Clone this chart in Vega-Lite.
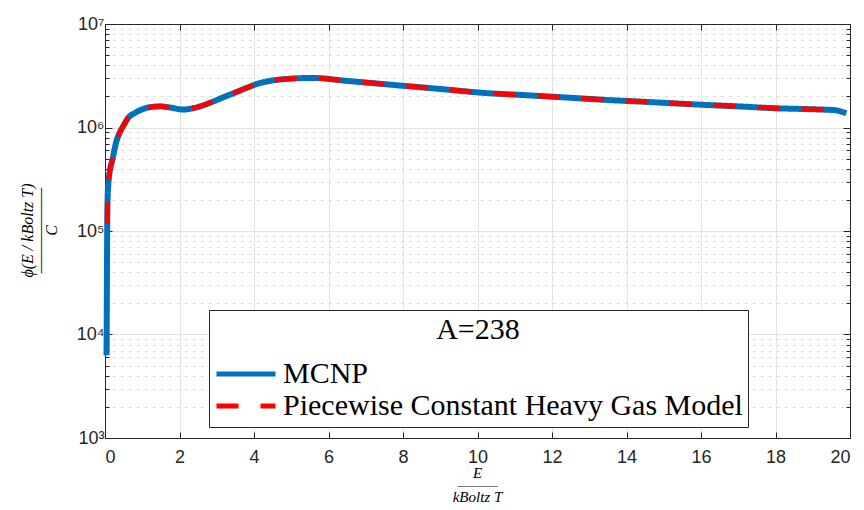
{
  "$schema": "https://vega.github.io/schema/vega-lite/v6.json",
  "width": 745,
  "height": 414,
  "autosize": {"type": "none"},
  "padding": {"left": 105, "top": 24, "right": 14, "bottom": 72},
  "background": "white",
  "config": {
    "view": {"stroke": null},
    "axis": {
      "labelFont": "Liberation Sans",
      "labelFontSize": 18,
      "labelColor": "#262626",
      "domainColor": "#262626",
      "tickColor": "#262626",
      "titleColor": "#000000",
      "titleFont": "Liberation Serif",
      "titleFontStyle": "italic",
      "titleFontWeight": "normal"
    }
  },
  "datasets": {
    "curves": [
      {"series": "MCNP", "x": 0.04, "phi": 6300},
      {"series": "MCNP", "x": 0.045, "phi": 10000},
      {"series": "MCNP", "x": 0.05, "phi": 25000},
      {"series": "MCNP", "x": 0.055, "phi": 60000},
      {"series": "MCNP", "x": 0.06, "phi": 110000},
      {"series": "MCNP", "x": 0.067, "phi": 190000},
      {"series": "MCNP", "x": 0.09, "phi": 286000},
      {"series": "MCNP", "x": 0.13, "phi": 380000},
      {"series": "MCNP", "x": 0.2, "phi": 490000},
      {"series": "MCNP", "x": 0.3, "phi": 720000},
      {"series": "MCNP", "x": 0.4, "phi": 900000},
      {"series": "MCNP", "x": 0.5, "phi": 1050000},
      {"series": "MCNP", "x": 0.63, "phi": 1250000},
      {"series": "MCNP", "x": 0.8, "phi": 1380000},
      {"series": "MCNP", "x": 1.0, "phi": 1500000},
      {"series": "MCNP", "x": 1.2, "phi": 1570000},
      {"series": "MCNP", "x": 1.48, "phi": 1600000},
      {"series": "MCNP", "x": 1.75, "phi": 1560000},
      {"series": "MCNP", "x": 2.1, "phi": 1490000},
      {"series": "MCNP", "x": 2.3, "phi": 1520000},
      {"series": "MCNP", "x": 2.55, "phi": 1600000},
      {"series": "MCNP", "x": 2.9, "phi": 1780000},
      {"series": "MCNP", "x": 3.18, "phi": 1960000},
      {"series": "MCNP", "x": 3.5, "phi": 2180000},
      {"series": "MCNP", "x": 3.81, "phi": 2420000},
      {"series": "MCNP", "x": 4.1, "phi": 2650000},
      {"series": "MCNP", "x": 4.48, "phi": 2840000},
      {"series": "MCNP", "x": 4.97, "phi": 2960000},
      {"series": "MCNP", "x": 5.3, "phi": 3000000},
      {"series": "MCNP", "x": 5.7, "phi": 3000000},
      {"series": "MCNP", "x": 6.36, "phi": 2850000},
      {"series": "MCNP", "x": 7.0, "phi": 2720000},
      {"series": "MCNP", "x": 7.62, "phi": 2600000},
      {"series": "MCNP", "x": 8.92, "phi": 2370000},
      {"series": "MCNP", "x": 10.17, "phi": 2160000},
      {"series": "MCNP", "x": 11.42, "phi": 2040000},
      {"series": "MCNP", "x": 12.68, "phi": 1920000},
      {"series": "MCNP", "x": 13.3, "phi": 1860000},
      {"series": "MCNP", "x": 14.5, "phi": 1770000},
      {"series": "MCNP", "x": 16.0, "phi": 1660000},
      {"series": "MCNP", "x": 17.0, "phi": 1600000},
      {"series": "MCNP", "x": 18.0, "phi": 1535000},
      {"series": "MCNP", "x": 19.0, "phi": 1500000},
      {"series": "MCNP", "x": 19.6, "phi": 1470000},
      {"series": "MCNP", "x": 19.9, "phi": 1370000},
      {"series": "Piecewise Constant Heavy Gas Model", "x": 0.06, "phi": 118000},
      {"series": "Piecewise Constant Heavy Gas Model", "x": 0.067, "phi": 190000},
      {"series": "Piecewise Constant Heavy Gas Model", "x": 0.09, "phi": 286000},
      {"series": "Piecewise Constant Heavy Gas Model", "x": 0.13, "phi": 380000},
      {"series": "Piecewise Constant Heavy Gas Model", "x": 0.2, "phi": 490000},
      {"series": "Piecewise Constant Heavy Gas Model", "x": 0.3, "phi": 720000},
      {"series": "Piecewise Constant Heavy Gas Model", "x": 0.4, "phi": 900000},
      {"series": "Piecewise Constant Heavy Gas Model", "x": 0.5, "phi": 1050000},
      {"series": "Piecewise Constant Heavy Gas Model", "x": 0.63, "phi": 1250000},
      {"series": "Piecewise Constant Heavy Gas Model", "x": 0.8, "phi": 1380000},
      {"series": "Piecewise Constant Heavy Gas Model", "x": 1.0, "phi": 1500000},
      {"series": "Piecewise Constant Heavy Gas Model", "x": 1.2, "phi": 1570000},
      {"series": "Piecewise Constant Heavy Gas Model", "x": 1.48, "phi": 1600000},
      {"series": "Piecewise Constant Heavy Gas Model", "x": 1.75, "phi": 1560000},
      {"series": "Piecewise Constant Heavy Gas Model", "x": 2.1, "phi": 1490000},
      {"series": "Piecewise Constant Heavy Gas Model", "x": 2.3, "phi": 1520000},
      {"series": "Piecewise Constant Heavy Gas Model", "x": 2.55, "phi": 1600000},
      {"series": "Piecewise Constant Heavy Gas Model", "x": 2.9, "phi": 1780000},
      {"series": "Piecewise Constant Heavy Gas Model", "x": 3.18, "phi": 1960000},
      {"series": "Piecewise Constant Heavy Gas Model", "x": 3.5, "phi": 2180000},
      {"series": "Piecewise Constant Heavy Gas Model", "x": 3.81, "phi": 2420000},
      {"series": "Piecewise Constant Heavy Gas Model", "x": 4.1, "phi": 2650000},
      {"series": "Piecewise Constant Heavy Gas Model", "x": 4.48, "phi": 2840000},
      {"series": "Piecewise Constant Heavy Gas Model", "x": 4.97, "phi": 2960000},
      {"series": "Piecewise Constant Heavy Gas Model", "x": 5.3, "phi": 3000000},
      {"series": "Piecewise Constant Heavy Gas Model", "x": 5.7, "phi": 3000000},
      {"series": "Piecewise Constant Heavy Gas Model", "x": 6.36, "phi": 2850000},
      {"series": "Piecewise Constant Heavy Gas Model", "x": 7.0, "phi": 2720000},
      {"series": "Piecewise Constant Heavy Gas Model", "x": 7.62, "phi": 2600000},
      {"series": "Piecewise Constant Heavy Gas Model", "x": 8.92, "phi": 2370000},
      {"series": "Piecewise Constant Heavy Gas Model", "x": 10.17, "phi": 2160000},
      {"series": "Piecewise Constant Heavy Gas Model", "x": 11.42, "phi": 2040000},
      {"series": "Piecewise Constant Heavy Gas Model", "x": 12.68, "phi": 1920000},
      {"series": "Piecewise Constant Heavy Gas Model", "x": 13.3, "phi": 1860000},
      {"series": "Piecewise Constant Heavy Gas Model", "x": 14.5, "phi": 1770000},
      {"series": "Piecewise Constant Heavy Gas Model", "x": 16.0, "phi": 1660000},
      {"series": "Piecewise Constant Heavy Gas Model", "x": 17.0, "phi": 1600000},
      {"series": "Piecewise Constant Heavy Gas Model", "x": 18.0, "phi": 1535000},
      {"series": "Piecewise Constant Heavy Gas Model", "x": 19.0, "phi": 1500000},
      {"series": "Piecewise Constant Heavy Gas Model", "x": 19.6, "phi": 1475000}
    ]
  },
  "data": {"name": "curves"},
  "layer": [
    {
      "transform": [{"filter": "datum.series == 'MCNP'"}],
      "mark": {"type": "line", "strokeWidth": 6, "interpolate": "monotone"},
      "encoding": {
        "x": {
          "field": "x", "type": "quantitative",
          "scale": {"domain": [0, 20], "nice": false, "zero": false},
          "axis": {
            "orient": "bottom",
            "values": [0, 2, 4, 6, 8, 10, 12, 14, 16, 18, 20],
            "grid": true, "gridColor": "#e3e3e3",
            "tickSize": -6, "labelPadding": 16,
            "title": ["E", "———", "kBoltz T"],
            "titleFontSize": 15, "titleLineHeight": 12,
            "titleBaseline": "middle", "titleX": 372, "titleY": 34
          }
        },
        "y": {
          "field": "phi", "type": "quantitative",
          "scale": {"type": "log", "domain": [1000, 10000000], "nice": false},
          "axis": {
            "orient": "left",
            "values": [1000, 2000, 3000, 4000, 5000, 6000, 7000, 8000, 9000, 10000, 20000, 30000, 40000, 50000, 60000, 70000, 80000, 90000, 100000, 200000, 300000, 400000, 500000, 600000, 700000, 800000, 900000, 1000000, 2000000, 3000000, 4000000, 5000000, 6000000, 7000000, 8000000, 9000000, 10000000],
            "grid": true,
            "gridColor": {"condition": {"test": "abs(log(datum.value)/LN10 - round(log(datum.value)/LN10)) < 0.001", "value": "#e3e3e3"}, "value": "#cfcfcf"},
            "gridDash": {"condition": {"test": "abs(log(datum.value)/LN10 - round(log(datum.value)/LN10)) < 0.001", "value": []}, "value": [2, 6]},
            "tickSize": {"condition": {"test": "abs(log(datum.value)/LN10 - round(log(datum.value)/LN10)) < 0.001", "value": -7}, "value": -4},
            "labelExpr": "abs(log(datum.value)/LN10 - round(log(datum.value)/LN10)) < 0.001 ? '10' + ['⁰','¹','²','³','⁴','⁵','⁶','⁷','⁸','⁹'][round(log(datum.value)/LN10)] : ''",
            "labelPadding": 8,
            "title": ["ϕ(E / kBoltz T)", "——————", "C"],
            "titleFontSize": 16, "titleLineHeight": 12,
            "titleAngle": -90, "titleBaseline": "middle",
            "titleX": -78, "titleY": 206
          }
        },
        "color": {
          "field": "series", "type": "nominal",
          "scale": {"domain": ["MCNP", "Piecewise Constant Heavy Gas Model"], "range": ["#0072BD", "#FF0000"]},
          "legend": {
            "orient": "none", "legendX": 104, "legendY": 286,
            "title": "A=238", "titleAnchor": "middle",
            "titleFont": "Liberation Serif", "titleFontSize": 30, "titleFontWeight": "normal", "titleColor": "#000000",
            "titlePadding": 13,
            "labelFont": "Liberation Serif", "labelFontSize": 30, "labelColor": "#000000", "labelLimit": 700, "labelOffset": 5,
            "symbolType": "stroke", "symbolSize": 3481, "symbolStrokeWidth": 5,
            "clipHeight": 32,
            "strokeColor": "#262626", "fillColor": "white", "padding": 5, "rowPadding": 0
          }
        },
        "strokeDash": {
          "field": "series", "type": "nominal",
          "scale": {"domain": ["MCNP", "Piecewise Constant Heavy Gas Model"], "range": [[1, 0], [22, 22]]},
          "legend": {"title": "A=238"}
        }
      }
    },
    {
      "transform": [{"filter": "datum.series != 'MCNP'"}],
      "mark": {"type": "line", "strokeWidth": 5, "interpolate": "monotone"},
      "encoding": {
        "x": {
          "field": "x", "type": "quantitative",
          "axis": {
            "orient": "top", "values": [0, 2, 4, 6, 8, 10, 12, 14, 16, 18, 20],
            "labels": false, "grid": false, "tickSize": -6, "title": null
          }
        },
        "y": {
          "field": "phi", "type": "quantitative",
          "axis": {
            "orient": "right",
            "values": [1000, 2000, 3000, 4000, 5000, 6000, 7000, 8000, 9000, 10000, 20000, 30000, 40000, 50000, 60000, 70000, 80000, 90000, 100000, 200000, 300000, 400000, 500000, 600000, 700000, 800000, 900000, 1000000, 2000000, 3000000, 4000000, 5000000, 6000000, 7000000, 8000000, 9000000, 10000000],
            "labels": false, "grid": false,
            "tickSize": {"condition": {"test": "abs(log(datum.value)/LN10 - round(log(datum.value)/LN10)) < 0.001", "value": -7}, "value": -4},
            "title": null
          }
        },
        "color": {"field": "series", "type": "nominal"},
        "strokeDash": {"field": "series", "type": "nominal"}
      }
    }
  ],
  "resolve": {"axis": {"x": "independent", "y": "independent"}}
}
